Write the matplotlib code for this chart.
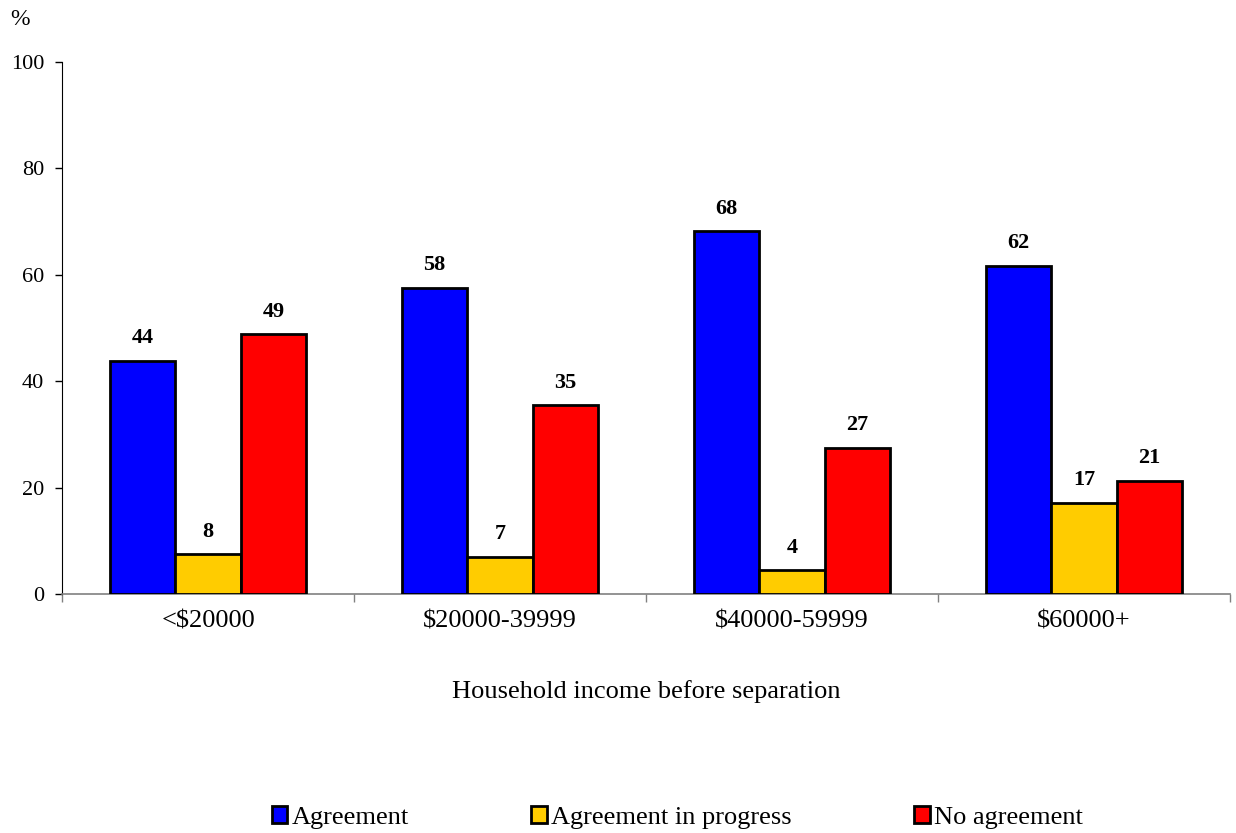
import matplotlib
matplotlib.use("Agg")
import matplotlib.pyplot as plt
import numpy as np

plt.rcParams['font.family'] = ['Liberation Serif', 'DejaVu Serif']

# Data
categories = ['<$20000', '$20000-39999', '$40000-59999', '$60000+']
series_names = ['Agreement', 'Agreement in progress', 'No agreement']
agreement = [43.8, 57.6, 68.2, 61.7]
in_progress = [7.5, 7.0, 4.5, 17.2]
no_agreement = [48.8, 35.5, 27.5, 21.3]
labels_agreement = ['44', '58', '68', '62']
labels_in_progress = ['8', '7', '4', '17']
labels_no_agreement = ['49', '35', '27', '21']
colors = ['#0000FF', '#FFCC00', '#FF0000']

fig = plt.figure(figsize=(12.36, 8.33), dpi=100)
ax = fig.add_axes([0.0502, 0.2869, 0.9448, 0.6387])

x = np.arange(len(categories))
w = 0.224
series = [agreement, in_progress, no_agreement]
labels = [labels_agreement, labels_in_progress, labels_no_agreement]

for i, (vals, labs) in enumerate(zip(series, labels)):
    pos = x + (i - 1) * w
    ax.bar(pos, vals, width=w, color=colors[i], edgecolor='black',
           linewidth=2, label=series_names[i], zorder=3)
    for px, v, lab in zip(pos, vals, labs):
        ax.annotate(lab, xy=(px, v), xytext=(0, 9), textcoords='offset points',
                    ha='center', va='bottom', fontsize=16, fontweight='bold')

ax.set_xlim(-0.5, len(categories) - 0.5)
ax.set_ylim(0, 100)
ax.set_yticks([0, 20, 40, 60, 80, 100])
ax.tick_params(axis='y', labelsize=16, length=5, width=1, direction='out', pad=8)

ax.set_xticks(x)
ax.set_xticklabels(categories)
ax.set_xticks(np.arange(len(categories) + 1) - 0.5, minor=True)
ax.tick_params(axis='x', which='major', length=0, labelsize=19, pad=12)
ax.tick_params(axis='x', which='minor', length=6, width=1, color='#808080', direction='out')

for s in ['top', 'right']:
    ax.spines[s].set_visible(False)
ax.spines['left'].set_color('black')
ax.spines['bottom'].set_color('#808080')
ax.spines['bottom'].set_linewidth(1.2)

ax.set_xlabel('Household income before separation', fontsize=19, labelpad=34)
fig.text(0.008, 0.976, '%', fontsize=17, ha='left', va='center')

fig.legend(loc='center', bbox_to_anchor=(0.548, 0.019), ncol=3, frameon=False,
           fontsize=19, handlelength=0.6, handleheight=0.6, handletextpad=0.15,
           columnspacing=4.65)

fig.savefig('out.png', dpi=100)
